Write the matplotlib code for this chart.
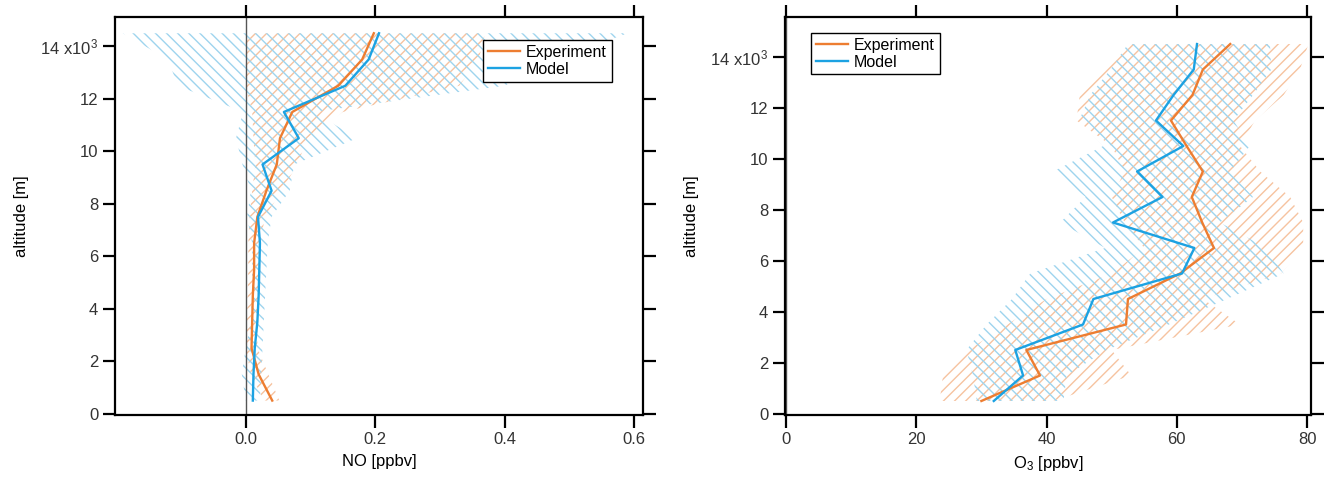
import matplotlib
matplotlib.use("Agg")
import matplotlib.pyplot as plt
import numpy as np

plt.rcParams['font.family'] = ['Liberation Sans', 'DejaVu Sans']
plt.rcParams['mathtext.default'] = 'regular'
plt.rcParams['hatch.linewidth'] = 1.0

# ---------------- data ----------------
altitude = [500, 1500, 2500, 3500, 4500, 5500, 6500, 7500,
            8500, 9500, 10500, 11500, 12500, 13500, 14500]

no_exp = [0.041, 0.020, 0.009, 0.010, 0.011, 0.013, 0.013, 0.018,
          0.032, 0.048, 0.053, 0.072, 0.143, 0.180, 0.198]
no_exp_low = [0.028, 0.008, 0.000, 0.002, 0.003, 0.004, 0.004, 0.006,
              0.010, 0.015, 0.012, 0.010, 0.000, 0.000, 0.000]
no_exp_high = [0.052, 0.035, 0.018, 0.018, 0.019, 0.022, 0.022, 0.030,
               0.055, 0.080, 0.095, 0.150, 0.330, 0.360, 0.370]

no_mod = [0.011, 0.012, 0.014, 0.018, 0.020, 0.021, 0.022, 0.019,
          0.040, 0.026, 0.082, 0.059, 0.154, 0.190, 0.206]
no_mod_low = [0.000, -0.006, 0.000, 0.008, 0.010, 0.010, 0.010, 0.002,
              0.008, -0.005, -0.015, -0.004, -0.105, -0.120, -0.190]
no_mod_high = [0.022, 0.024, 0.026, 0.028, 0.030, 0.032, 0.034, 0.040,
               0.068, 0.075, 0.172, 0.105, 0.400, 0.480, 0.590]

o3_exp = [30.0, 39.0, 36.9, 52.2, 52.5, 60.5, 65.7, 63.9,
          62.3, 64.0, 61.5, 59.1, 62.4, 64.0, 68.2]
o3_exp_low = [23.6, 24.1, 28.0, 34.0, 40.0, 50.0, 55.0, 52.0,
              50.0, 52.0, 50.0, 44.6, 45.1, 48.2, 53.0]
o3_exp_high = [41.0, 53.0, 50.0, 69.7, 64.0, 76.0, 79.4, 79.4,
               77.4, 72.8, 69.7, 72.0, 76.4, 78.9, 80.2]

o3_mod = [31.9, 36.4, 35.2, 45.6, 47.2, 60.8, 62.7, 50.2,
          57.8, 53.9, 61.0, 56.8, 59.5, 62.6, 63.1]
o3_mod_low = [29.3, 28.7, 27.7, 30.8, 34.7, 37.5, 49.0, 42.1,
              46.0, 41.0, 48.7, 45.0, 46.7, 49.8, 52.5]
o3_mod_high = [42.6, 43.1, 49.2, 58.8, 67.7, 76.4, 73.8, 66.6,
               71.7, 68.2, 71.2, 68.7, 71.7, 74.5, 74.3]

no_ticks = [0.0, 0.2, 0.4, 0.6]
no_ticklabels = ['0.0', '0.2', '0.4', '0.6']
o3_ticks = [0, 20, 40, 60, 80]
o3_ticklabels = ['0', '20', '40', '60', '80']
alt_ticks = [0, 2000, 4000, 6000, 8000, 10000, 12000, 14000]
alt_ticklabels = ['0', '2', '4', '6', '8', '10', '12', '14 x10$^{3}$']

# ---------------- style ----------------
c_exp = '#ED7D31'
c_mod = '#1CA2E2'
h_exp = '#F6C3A0'
h_mod = '#9ED4EE'
FS = 12

fig = plt.figure(figsize=(13.3, 4.78), dpi=100)
ax1 = fig.add_axes([115 / 1330, 63 / 478, 528 / 1330, 398 / 478])
ax2 = fig.add_axes([785 / 1330, 63 / 478, 526 / 1330, 398 / 478])


def panel(ax, exp, elo, ehi, mod, mlo, mhi, xlim, ylim, xt, xtl, xlabel,
          legloc, leganchor):
    ax.fill_betweenx(altitude, elo, ehi, facecolor='none', edgecolor=h_exp,
                     hatch='///', linewidth=0, zorder=1)
    ax.fill_betweenx(altitude, mlo, mhi, facecolor='none', edgecolor=h_mod,
                     hatch='\\\\\\', linewidth=0, zorder=1)
    ax.axvline(0, color='#555555', linewidth=1.0, zorder=2)
    ax.plot(exp, altitude, color=c_exp, linewidth=1.7, label='Experiment', zorder=3)
    ax.plot(mod, altitude, color=c_mod, linewidth=1.7, label='Model', zorder=3)
    ax.set_xlim(*xlim)
    ax.set_ylim(*ylim)
    ax.set_xticks(xt)
    ax.set_xticklabels(xtl, fontsize=FS)
    ax.set_yticks(alt_ticks)
    ax.set_yticklabels(alt_ticklabels, fontsize=FS)
    ax.set_xlabel(xlabel, fontsize=FS, labelpad=5)
    ax.set_ylabel('altitude [m]', fontsize=FS, labelpad=8)
    ax.tick_params(direction='out', length=9, width=1.6, pad=3,
                   top=True, right=True, labeltop=False, labelright=False,
                   colors='black', labelcolor='#333333')
    for s in ax.spines.values():
        s.set_linewidth(1.6)
    leg = ax.legend(loc=legloc, bbox_to_anchor=leganchor, borderaxespad=0,
                    fontsize=11.5, frameon=True, fancybox=False,
                    edgecolor='black', framealpha=1, handlelength=2.0,
                    handletextpad=0.4, borderpad=0.3, labelspacing=0.12)
    leg.get_frame().set_linewidth(1.0)


panel(ax1, no_exp, no_exp_low, no_exp_high, no_mod, no_mod_low, no_mod_high,
      (-0.202, 0.614), (-50, 15120), no_ticks, no_ticklabels, 'NO [ppbv]',
      'upper right', (0.941, 0.942))
panel(ax2, o3_exp, o3_exp_low, o3_exp_high, o3_mod, o3_mod_low, o3_mod_high,
      (-0.15, 80.6), (-50, 15560), o3_ticks, o3_ticklabels, 'O$_3$ [ppbv]',
      'upper left', (0.049, 0.960))

fig.savefig('out.png', dpi=100)
